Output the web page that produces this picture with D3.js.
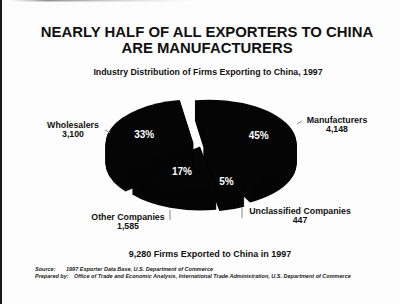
<!DOCTYPE html>
<html>
<head>
<meta charset="utf-8">
<script src="https://cdn.jsdelivr.net/npm/d3@7"></script>
<style>
  body { margin: 0; background: #fff; }
  svg { display: block; }
  text { font-family: "Liberation Sans", Arial, sans-serif; font-weight: bold; }
</style>
</head>
<body>
<div id="chart"></div>
<script>
// data
const categories = ["Manufacturers", "Unclassified Companies", "Other Companies", "Wholesalers"];
const firmCounts = [4148, 447, 1585, 3100];
const titleLines = ["NEARLY HALF OF ALL EXPORTERS TO CHINA", "ARE MANUFACTURERS"];
const subtitle = "Industry Distribution of Firms Exporting to China, 1997";
const totalNote = "9,280 Firms Exported to China in 1997";
const sourceLines = [
  ["Source:", "1997 Exporter Data Base, U.S. Department of Commerce"],
  ["Prepared by:", "Office of Trade and Economic Analysis, International Trade Administration, U.S. Department of Commerce"]
];

const width = 400;
const height = 304;

// pie layout (tilted disc)
const cx = 201, cy = 145, R = 88, tilt = 0.5, depth = 20;
const startDeg = -9;
const explode = { "Manufacturers": 8, "Unclassified Companies": 6, "Other Companies": 3, "Wholesalers": 8 };

// callout placement for the outside labels (center x, first baseline, leader line)
const callouts = {
  "Manufacturers":          { x: 337, y: 123, line: [[297, 124], [302, 121]] },
  "Unclassified Companies": { x: 300, y: 214, line: [[242, 208], [242, 218]] },
  "Other Companies":        { x: 128, y: 220, line: [[170, 210], [170, 220]] },
  "Wholesalers":            { x: 73,  y: 128, line: [[105, 130], [110, 133]] }
};

const data = categories.map((name, i) => ({ name, value: firmCounts[i] }));
const total = d3.sum(firmCounts);

const svg = d3.select("#chart")
  .append("svg")
  .attr("width", width)
  .attr("height", height);

svg.append("rect").attr("width", width).attr("height", height).attr("fill", "#fdfdfd");

// scan edges
svg.append("rect").attr("x", 0).attr("y", 0).attr("width", 2).attr("height", height).attr("fill", "#1a1a1a");
const grad = svg.append("defs").append("linearGradient").attr("id", "smudge");
grad.append("stop").attr("offset", "0%").attr("stop-color", "#999").attr("stop-opacity", 0);
grad.append("stop").attr("offset", "20%").attr("stop-color", "#777").attr("stop-opacity", 0.8);
grad.append("stop").attr("offset", "100%").attr("stop-color", "#bbb").attr("stop-opacity", 0);
svg.append("rect").attr("x", 10).attr("y", 0).attr("width", 185).attr("height", 1.5).attr("fill", "url(#smudge)");

// titles
svg.selectAll("text.title")
  .data(titleLines)
  .join("text")
  .attr("class", "title")
  .attr("x", 207)
  .attr("y", (d, i) => 37 + i * 15.5)
  .attr("text-anchor", "middle")
  .attr("font-size", "14.9px")
  .attr("fill", "#111")
  .text(d => d);

svg.append("text")
  .attr("x", 208)
  .attr("y", 75)
  .attr("text-anchor", "middle")
  .attr("font-size", "8.8px")
  .attr("fill", "#111")
  .text(subtitle);

// pie
const pie = d3.pie()
  .sort(null)
  .value(d => d.value)
  .startAngle(startDeg * Math.PI / 180)
  .endAngle(startDeg * Math.PI / 180 + 2 * Math.PI);

const arc = d3.arc().innerRadius(0).outerRadius(R);
const arcs = pie(data);

const offsetOf = d => {
  const mid = (d.startAngle + d.endAngle) / 2;
  const e = explode[d.data.name];
  return [e * Math.sin(mid), -e * Math.cos(mid) * tilt];
};

const pieG = svg.append("g").attr("class", "pie");

arcs.forEach(d => {
  const [ox, oy] = offsetOf(d);
  const sliceG = pieG.append("g").attr("class", "slice");
  // stacked copies give the disc its thickness
  sliceG.selectAll("path")
    .data(d3.range(depth, -1, -1))
    .join("path")
    .attr("d", arc(d))
    .attr("transform", dz => `translate(${cx + ox}, ${cy + oy + dz}) scale(1, ${tilt})`)
    .attr("fill", "#050505");
});

// percent labels on the top face
const labelPos = d => {
  const mid = (d.startAngle + d.endAngle) / 2;
  const r = R * (d.value / total < 0.1 ? 0.8 : 0.6);
  const [ox, oy] = offsetOf(d);
  return [cx + ox + r * Math.sin(mid), cy + oy - r * Math.cos(mid) * tilt];
};

svg.selectAll("text.pct")
  .data(arcs)
  .join("text")
  .attr("class", "pct")
  .attr("x", d => labelPos(d)[0])
  .attr("y", d => labelPos(d)[1])
  .attr("dy", "0.35em")
  .attr("text-anchor", "middle")
  .attr("font-size", "10px")
  .attr("fill", "#fff")
  .text(d => Math.round(d.value / total * 100) + "%");

// callouts
const fmt = d3.format(",");
data.forEach(d => {
  const c = callouts[d.name];
  svg.append("line")
    .attr("x1", c.line[0][0]).attr("y1", c.line[0][1])
    .attr("x2", c.line[1][0]).attr("y2", c.line[1][1])
    .attr("stroke", "#888")
    .attr("stroke-width", 1);
  const t = svg.append("text")
    .attr("text-anchor", "middle")
    .attr("font-size", "8.8px")
    .attr("fill", "#111");
  t.append("tspan").attr("x", c.x).attr("y", c.y).text(d.name);
  t.append("tspan").attr("x", c.x).attr("y", c.y + 8.8).text(fmt(d.value));
});

svg.append("text")
  .attr("x", 210)
  .attr("y", 257)
  .attr("text-anchor", "middle")
  .attr("font-size", "9px")
  .attr("fill", "#111")
  .text(totalNote);

// source notes
sourceLines.forEach((line, i) => {
  const t = svg.append("text")
    .attr("x", 35)
    .attr("y", 271 + i * 6.6)
    .attr("font-size", "5.5px")
    .attr("font-style", "italic")
    .attr("fill", "#222");
  t.append("tspan").text(line[0]);
  t.append("tspan").attr("x", i === 0 ? 66 : 74).text(line[1]);
});
</script>
</body>
</html>
